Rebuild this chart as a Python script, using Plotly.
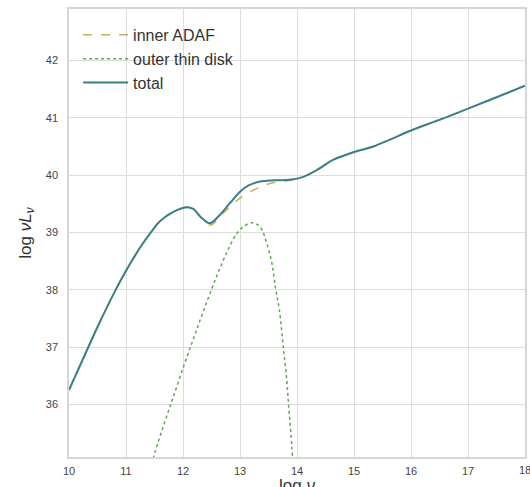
import plotly.graph_objects as go

# ---- data ----
total_x = [10.0, 10.34, 10.5, 10.81, 11.0, 11.25, 11.45, 11.6, 11.83, 12.07, 12.18, 12.33,
           12.47, 12.65, 12.83, 13.0, 13.15, 13.35, 13.6, 13.88, 14.11, 14.35, 14.64,
           14.99, 15.34, 15.63, 16.0, 16.51, 17.0, 17.5, 18.0]
total_y = [36.25, 37.0, 37.35, 37.98, 38.33, 38.74, 39.02, 39.2, 39.36, 39.44, 39.41, 39.25,
           39.16, 39.31, 39.52, 39.71, 39.82, 39.89, 39.91, 39.92, 39.97, 40.09, 40.27,
           40.40, 40.50, 40.62, 40.78, 40.97, 41.16, 41.36, 41.56]

adaf_x = [10.0, 10.34, 10.5, 10.81, 11.0, 11.25, 11.45, 11.6, 11.83, 12.07, 12.18, 12.33,
          12.48, 12.71, 13.0, 13.3, 13.59, 13.88, 14.11, 14.35, 14.64,
          14.99, 15.34, 15.63, 16.0, 16.51, 17.0, 17.5, 18.0]
adaf_y = [36.25, 37.0, 37.35, 37.98, 38.33, 38.74, 39.02, 39.2, 39.36, 39.44, 39.41, 39.24,
          39.13, 39.34, 39.60, 39.77, 39.87, 39.91, 39.97, 40.09, 40.27,
          40.40, 40.50, 40.62, 40.78, 40.97, 41.16, 41.36, 41.56]

disk_x = [11.45, 11.51, 11.69, 11.83, 12.01, 12.16, 12.30, 12.51, 12.65, 12.80, 12.95, 13.06,
          13.21, 13.35, 13.47, 13.56, 13.62, 13.69, 13.76, 13.82, 13.85, 13.91, 13.93]
disk_y = [34.95, 35.17, 35.72, 36.13, 36.66, 37.08, 37.47, 38.03, 38.38, 38.72, 38.99, 39.10,
          39.17, 39.10, 38.81, 38.46, 38.05, 37.65, 37.0, 36.42, 36.02, 35.26, 34.9]

x_ticks = [10, 11, 12, 13, 14, 15, 16, 17, 18]
y_ticks = [36, 37, 38, 39, 40, 41, 42]

FONT = "Liberation Sans, Arial, sans-serif"

fig = go.Figure()
fig.add_trace(go.Scatter(x=adaf_x, y=adaf_y, mode="lines", name="inner ADAF",
                         line=dict(color="#c8ad5e", width=1.5, dash="dash", shape="spline", smoothing=1.0)))
fig.add_trace(go.Scatter(x=disk_x, y=disk_y, mode="lines", name="outer thin disk",
                         line=dict(color="#5ea752", width=1.5, dash="dot", shape="spline", smoothing=1.0)))
fig.add_trace(go.Scatter(x=total_x, y=total_y, mode="lines", name="total",
                         line=dict(color="#3a7f87", width=2, shape="spline", smoothing=1.0)))

axis_common = dict(showgrid=True, gridcolor="#dcdcdc", gridwidth=1,
                   showline=True, linecolor="#d6d6d6", linewidth=1.5, mirror=True,
                   zeroline=False, ticks="outside", tickcolor="rgba(0,0,0,0)",
                   tickfont=dict(family=FONT, size=11, color="#444"))

fig.update_xaxes(range=[10, 18], tickvals=x_ticks[:-1], automargin=False, ticklen=3,
                 **axis_common)
fig.update_yaxes(range=[35.08, 42.9], tickvals=y_ticks, automargin=False, ticklen=7,
                 title=dict(text="log <i>ν</i><i>L</i><sub><i>ν</i></sub>",
                            font=dict(family=FONT, size=17, color="#333"), standoff=10),
                 **axis_common)

# last x tick label sits on the right edge and is clipped by the page in the reference
fig.add_annotation(x=x_ticks[-1], y=0, xref="x", yref="paper", text=str(x_ticks[-1]),
                   showarrow=False, yanchor="top", yshift=-5,
                   font=dict(family=FONT, size=11, color="#444"))
# x-axis title, near the bottom page edge as in the reference
fig.add_annotation(x=0.5, y=0, xref="paper", yref="paper", text="log <i>ν</i>",
                   showarrow=False, yanchor="top", yshift=-17,
                   font=dict(family=FONT, size=17, color="#333"))

fig.update_layout(
    width=530, height=487,
    margin=dict(l=69, r=5, t=9, b=30),
    plot_bgcolor="white", paper_bgcolor="white",
    legend=dict(x=0.02, y=0.98, xanchor="left", yanchor="top",
                bgcolor="rgba(0,0,0,0)", font=dict(family=FONT, size=16, color="#333"),
                itemwidth=45, tracegroupgap=0),
    showlegend=True,
)

fig.write_html("out.html")
